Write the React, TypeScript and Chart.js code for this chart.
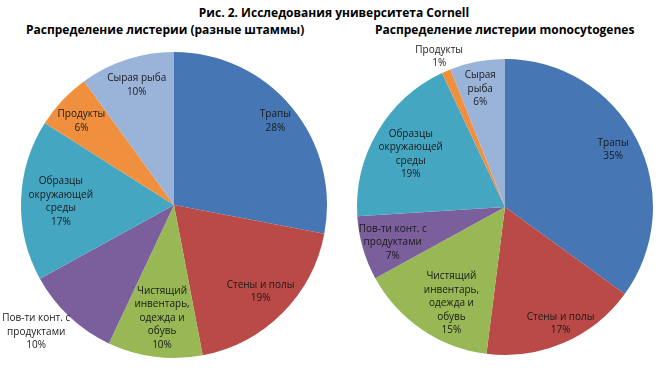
import React, { useEffect, useRef } from "react";
import { Chart, registerables } from "chart.js";
Chart.register(...registerables);

const mainTitle = "Рис. 2. Исследования университета Cornell";
const leftTitle = "Распределение листерии (разные штаммы)";
const rightTitle = "Распределение листерии monocytogenes";

const categories = [
  "Трапы",
  "Стены и полы",
  "Чистящий инвентарь, одежда и обувь",
  "Пов-ти конт. с продуктами",
  "Образцы окружающей среды",
  "Продукты",
  "Сырая рыба",
];
const strainsValues = [28, 19, 10, 10, 17, 6, 10];
const monoValues = [35, 17, 15, 7, 19, 1, 6];

const strainsLabelLines = [
  ["Трапы"],
  ["Стены и полы"],
  ["Чистящий", "инвентарь,", "одежда и", "обувь"],
  ["Пов-ти конт. с", "продуктами"],
  ["Образцы", "окружающей", "среды"],
  ["Продукты"],
  ["Сырая рыба"],
];
const monoLabelLines = [
  ["Трапы"],
  ["Стены и полы"],
  ["Чистящий", "инвентарь,", "одежда и", "обувь"],
  ["Пов-ти конт. с", "продуктами"],
  ["Образцы", "окружающей", "среды"],
  ["Продукты"],
  ["Сырая", "рыба"],
];

const sliceColors = ["#4776B4", "#BA4A47", "#97B855", "#7B5F9C", "#45A6C2", "#F0903F", "#9AB3D9"];

const strainsLabelRadius = [0.86, 0.8, 0.73, 1.22, 0.74, 0.83, 0.83];
const strainsLabelShiftX = [0, 0, 2, -10, 0, 0, 2];
const strainsLabelShiftY = [0, 0, 2, -9, 0, 3, 1];
const monoLabelRadius = [0.82, 0.86, 0.74, 0.79, 0.74, 1.12, 0.82];
const monoLabelShiftX = [0, 5, 8, 0, 0, 0, -2];
const monoLabelShiftY = [-2, 0, 6, 3, 3, 2, 1];

const FONT = "'Open Sans', 'Noto Sans', sans-serif";

function makeLabelPlugin(lines: string[][], radius: number[], sx: number[], sy: number[]) {
  return {
    id: "sliceLabels",
    afterDatasetsDraw(chart: any) {
      const ctx = chart.ctx;
      const meta = chart.getDatasetMeta(0);
      const data = chart.data.datasets[0].data as number[];
      const total = data.reduce((a, b) => a + b, 0);
      ctx.save();
      ctx.font = `10px ${FONT}`;
      ctx.fillStyle = "#1a1a1a";
      ctx.textAlign = "center";
      ctx.textBaseline = "middle";
      const lh = 13.5;
      meta.data.forEach((arc: any, i: number) => {
        const p = arc.getProps(["x", "y", "startAngle", "endAngle", "outerRadius"], true);
        const mid = (p.startAngle + p.endAngle) / 2;
        const r = p.outerRadius * radius[i];
        const cx = p.x + Math.cos(mid) * r + sx[i];
        const cy = p.y + Math.sin(mid) * r + sy[i];
        const all = [...lines[i], Math.round((data[i] / total) * 100) + "%"];
        const y0 = cy - ((all.length - 1) * lh) / 2;
        all.forEach((t, k) => ctx.fillText(t, cx, y0 + k * lh));
      });
      ctx.restore();
    },
  };
}

function PieCanvas(props: {
  values: number[];
  lines: string[][];
  radius: number[];
  sx: number[];
  sy: number[];
  padding: { left: number; right: number; top: number; bottom: number };
}) {
  const ref = useRef<HTMLCanvasElement | null>(null);
  useEffect(() => {
    if (!ref.current) return;
    const chart = new Chart(ref.current, {
      type: "pie",
      data: {
        labels: categories,
        datasets: [
          {
            data: props.values,
            backgroundColor: sliceColors,
            borderWidth: 0,
          },
        ],
      },
      options: {
        responsive: false,
        animation: false,
        layout: { padding: props.padding },
        plugins: { legend: { display: false }, tooltip: { enabled: false }, title: { display: false } },
      },
      plugins: [makeLabelPlugin(props.lines, props.radius, props.sx, props.sy)],
    });
    return () => chart.destroy();
  }, []);
  return <canvas ref={ref} width={334} height={330} style={{ display: "block", width: 334, height: 330 }} />;
}

export default function App() {
  return (
    <div style={{ position: "fixed", left: 0, top: 0, width: 668, height: 375, background: "#fff", overflow: "hidden" }}>
      <div style={{ position: "absolute", left: 0, top: 4, width: 668, textAlign: "center", font: `bold 12px ${FONT}`, color: "#000" }}>
        {mainTitle}
      </div>
      <div style={{ position: "absolute", left: 26, top: 21, font: `bold 12px ${FONT}`, color: "#000", whiteSpace: "nowrap" }}>
        {leftTitle}
      </div>
      <div style={{ position: "absolute", left: 375, top: 21, font: `bold 12px ${FONT}`, color: "#000", whiteSpace: "nowrap" }}>
        {rightTitle}
      </div>
      <div style={{ position: "absolute", left: 0, top: 40 }}>
        <PieCanvas values={strainsValues} lines={strainsLabelLines} radius={strainsLabelRadius} sx={strainsLabelShiftX} sy={strainsLabelShiftY}
          padding={{ left: 21, right: 7, top: 12, bottom: 12 }} />
      </div>
      <div style={{ position: "absolute", left: 334, top: 40 }}>
        <PieCanvas values={monoValues} lines={monoLabelLines} radius={monoLabelRadius} sx={monoLabelShiftX} sy={monoLabelShiftY}
          padding={{ left: 23, right: 15, top: 19, bottom: 15 }} />
      </div>
    </div>
  );
}
